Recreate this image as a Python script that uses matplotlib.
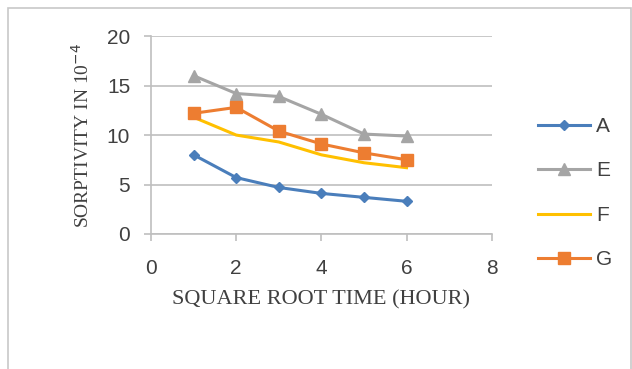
import matplotlib
matplotlib.use("Agg")
import matplotlib.pyplot as plt
from matplotlib.patches import Rectangle

# data
hours = [1, 2, 3, 4, 5, 6]
series_a = [8.0, 5.7, 4.7, 4.1, 3.7, 3.3]
series_e = [16.0, 14.2, 13.9, 12.1, 10.1, 9.9]
series_f = [11.8, 10.0, 9.3, 8.0, 7.2, 6.7]
series_g = [12.2, 12.8, 10.4, 9.1, 8.2, 7.5]
names = ["A", "E", "F", "G"]

fig = plt.figure(figsize=(6.32, 3.69), dpi=100)
ax = fig.add_axes([0.239, 0.366, 0.539, 0.536])

# outer frame of the chart area
fig.patches.append(Rectangle((8 / 632, -0.01), 623 / 632, 1 - 8 / 369 + 0.01,
                             transform=fig.transFigure, fill=False,
                             edgecolor="#c8c8c8", linewidth=1.2))

ax.plot(hours, series_a, color="#4a7ebb", marker="D", markersize=5.5, linewidth=2.2, label=names[0])
ax.plot(hours, series_e, color="#a5a5a5", marker="^", markersize=8, linewidth=2.2, label=names[1])
ax.plot(hours, series_f, color="#ffc000", linewidth=2.2, label=names[2])
ax.plot(hours, series_g, color="#ed7d31", marker="s", markersize=8, linewidth=2.2, label=names[3])

ax.set_xlim(0, 8)
ax.set_ylim(0, 20)
ax.set_xticks([0, 2, 4, 6, 8])
ax.set_yticks([0, 5, 10, 15, 20])
ax.yaxis.grid(True, color="#bfbfbf", linewidth=1.2)
ax.set_axisbelow(True)
for s in ["top", "right"]:
    ax.spines[s].set_visible(False)
ax.spines["left"].set_color("#bfbfbf")
ax.spines["bottom"].set_color("#bfbfbf")
ax.spines["left"].set_linewidth(1.2)
ax.spines["bottom"].set_linewidth(1.2)
ax.tick_params(axis="both", colors="#bfbfbf", length=5, width=1.2, labelsize=15,
               labelcolor="#404040")
ax.tick_params(axis="y", pad=10)
ax.tick_params(axis="x", pad=13)
for lab in ax.get_xticklabels() + ax.get_yticklabels():
    lab.set_family("Liberation Sans")

ax.set_xlabel("SQUARE ROOT TIME (HOUR)", family="Liberation Serif", fontsize=16,
              color="#404040", labelpad=9)
ax.set_ylabel("SORPTIVITY IN 10$^{-4}$", family="Liberation Serif", fontsize=14,
              color="#404040", labelpad=10)

leg = fig.legend(loc="upper left", bbox_to_anchor=(538 / 632, 1 - 117 / 369),
                 bbox_transform=fig.transFigure, frameon=False,
                 borderpad=0, borderaxespad=0,
                 labelspacing=1.22, handlelength=2.5, handletextpad=0.3,
                 prop={"family": "Liberation Sans", "size": 15})
for t in leg.get_texts():
    t.set_color("#404040")

fig.savefig("out.png", dpi=100)
